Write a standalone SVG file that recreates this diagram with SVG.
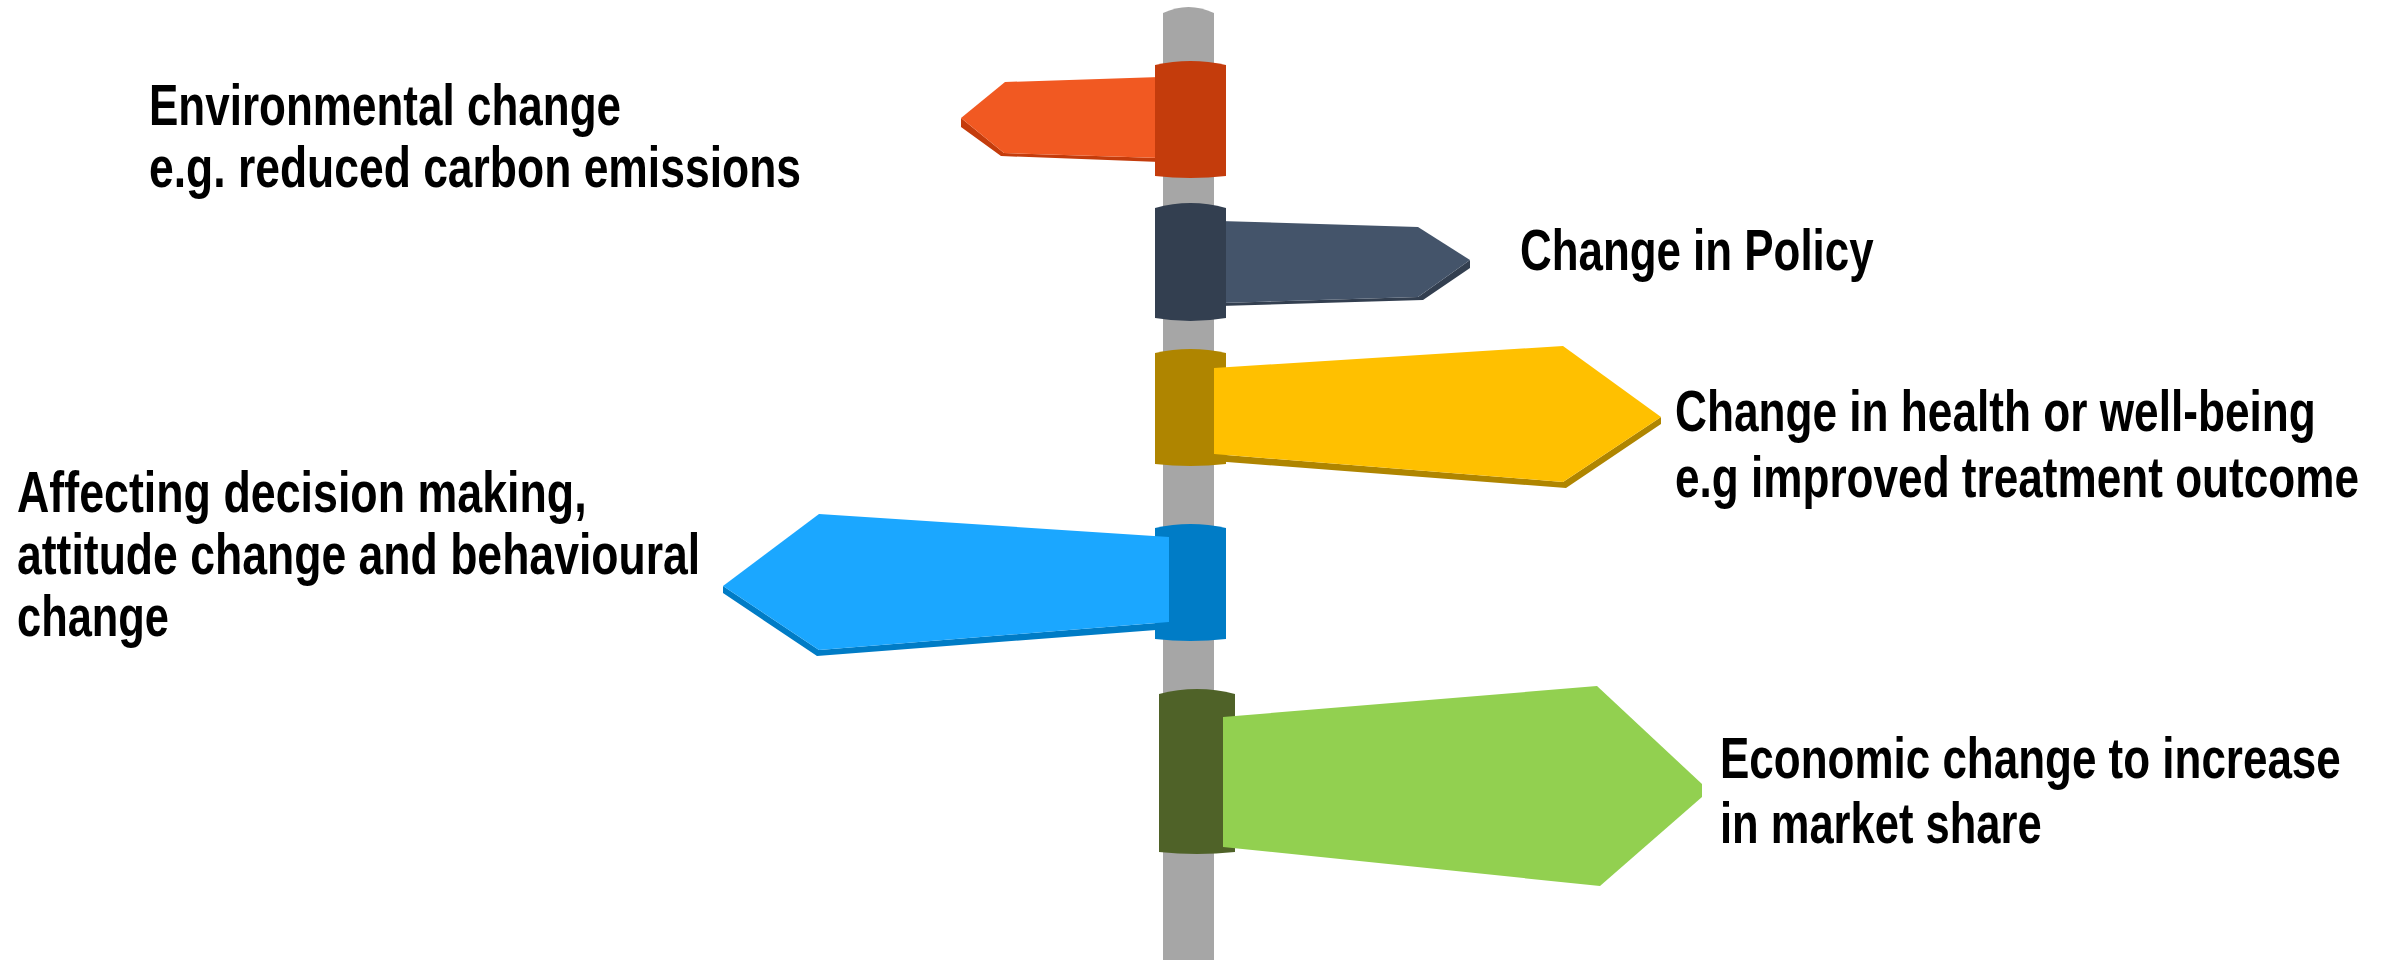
<svg xmlns="http://www.w3.org/2000/svg" width="2389" height="960" viewBox="0 0 2389 960">
<style>
text{font-family:"Liberation Sans","Liberation Sans Narrow",Arial,sans-serif;font-weight:bold;font-size:57px;fill:#000}
.pole{fill:#A6A6A6}
</style>
<rect width="2389" height="960" fill="#FFFFFF"/>
<path id="pole" class="pole" d="M1163,13 Q1188.5,1 1214,13 L1214,960 L1163,960 Z"/>
<g id="connectors"/>
<g id="node-environmental">
<polygon fill="#C43C0C" points="961,118 961,127 1001,156 1160,162 1160,158 1004,153"/>
<polygon fill="#F15922" points="1160,77 1005,82 961,118 1004,153 1160,158"/>
<path fill="#C43C0C" d="M1155,65 Q1190.5,57 1226,65 L1226,176 Q1190.5,180 1155,176 Z"/>
<text transform="translate(149,125) scale(0.8,1)" textLength="590" lengthAdjust="spacingAndGlyphs">Environmental change</text>
<text transform="translate(149,187) scale(0.8,1)" textLength="815" lengthAdjust="spacingAndGlyphs">e.g. reduced carbon emissions</text>
</g>
<g id="node-policy">
<polygon fill="#333F50" points="1470,260 1470,268 1423,300 1220,306 1220,303 1418,297"/>
<polygon fill="#44546A" points="1220,221 1418,227 1470,260 1418,297 1220,303"/>
<path fill="#333F50" d="M1155,208 Q1190.5,198 1226,208 L1226,318 Q1190.5,324 1155,318 Z"/>
<text transform="translate(1520,270) scale(0.8,1)" textLength="442" lengthAdjust="spacingAndGlyphs">Change in Policy</text>
</g>
<g id="node-health">
<path fill="#AF8500" d="M1155,353 Q1190.5,345 1226,353 L1226,464 Q1190.5,468 1155,464 Z"/>
<polygon fill="#AF8500" points="1661,417 1661,424 1566,488 1214,461 1214,454 1563,482"/>
<polygon fill="#FFC000" points="1214,368 1563,346 1661,417 1563,482 1214,454"/>
<text transform="translate(1675,431) scale(0.8,1)" textLength="801" lengthAdjust="spacingAndGlyphs">Change in health or well-being</text>
<text transform="translate(1675,497) scale(0.8,1)" textLength="855" lengthAdjust="spacingAndGlyphs">e.g improved treatment outcome</text>
</g>
<g id="node-decision">
<path fill="#007CC6" d="M1155,528 Q1190.5,520 1226,528 L1226,639 Q1190.5,643 1155,639 Z"/>
<polygon fill="#007CC6" points="723,586 723,593 817,656 1169,629 1169,622 819,650"/>
<polygon fill="#1BA7FF" points="1169,537 819,514 723,586 819,650 1169,622"/>
<text transform="translate(17,512) scale(0.8,1)" textLength="712" lengthAdjust="spacingAndGlyphs">Affecting decision making,</text>
<text transform="translate(17,574) scale(0.8,1)" textLength="854" lengthAdjust="spacingAndGlyphs">attitude change and behavioural</text>
<text transform="translate(17,636) scale(0.8,1)" textLength="190" lengthAdjust="spacingAndGlyphs">change</text>
</g>
<g id="node-economic">
<path fill="#4F6228" d="M1159,694 Q1197,684 1235,694 L1235,852 Q1197,856 1159,852 Z"/>
<polygon fill="#92D050" points="1223,717 1597,686 1702,784 1702,797 1600,886 1223,847"/>
<text transform="translate(1720,778) scale(0.8,1)" textLength="776" lengthAdjust="spacingAndGlyphs">Economic change to increase</text>
<text transform="translate(1720,843) scale(0.8,1)" textLength="402" lengthAdjust="spacingAndGlyphs">in market share</text>
</g>
</svg>
